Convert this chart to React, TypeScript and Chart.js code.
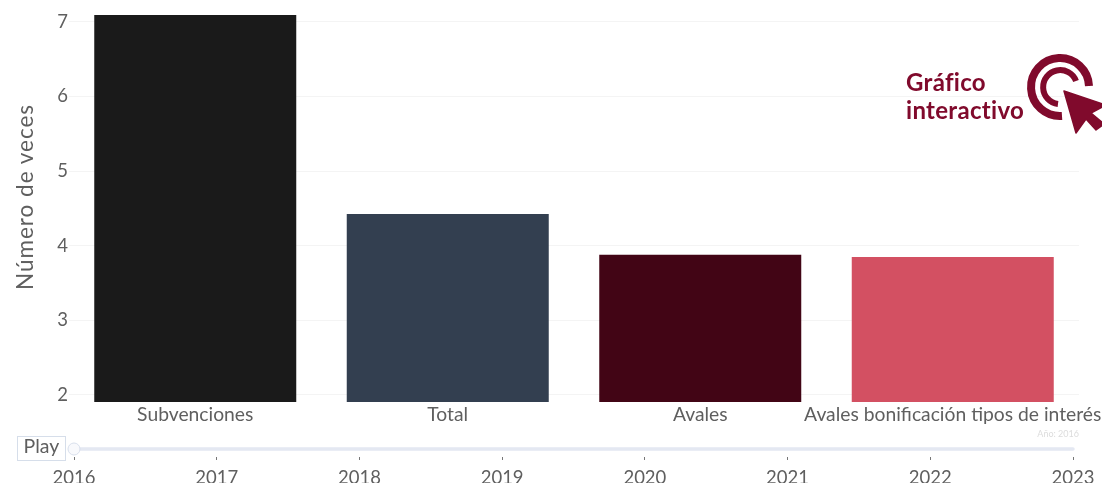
import React, { useEffect, useRef } from "react";
import { Chart, registerables } from "chart.js";

Chart.register(...registerables);

const categories = ["Subvenciones", "Total", "Avales", "Avales bonificación tipos de interés"];
const values = [7.09, 4.426, 3.877, 3.85];
const barColors = ["#1a1a1a", "#333f50", "#420515", "#d35062"];
const years = [2016, 2017, 2018, 2019, 2020, 2021, 2022, 2023];
const selectedYear = 2016;
const yMin = 1.906;
const yMax = 7.09;
const FONT = "Lato, 'Open Sans', sans-serif";
const TEXT = "#5f5f5f";
const MAROON = "#800a2c";

export default function App() {
  const mainRef = useRef<HTMLCanvasElement>(null);
  const sliderRef = useRef<HTMLCanvasElement>(null);

  useEffect(() => {
    const main = new Chart(mainRef.current!, {
      type: "bar",
      data: {
        labels: categories,
        datasets: [
          {
            data: values,
            backgroundColor: barColors,
            borderWidth: 0,
            barPercentage: 0.8,
            categoryPercentage: 1,
          },
        ],
      },
      options: {
        animation: false,
        responsive: false,
        devicePixelRatio: 1,
        layout: { padding: { top: 15, right: 23, left: 0, bottom: 0 } },
        plugins: { legend: { display: false }, tooltip: { enabled: false } },
        scales: {
          x: {
            grid: { display: false, drawTicks: false },
            border: { display: false },
            ticks: {
              autoSkip: false,
              maxRotation: 0,
              minRotation: 0,
              padding: 1,
              color: TEXT,
              font: { family: FONT, size: 19.3 },
            },
            afterFit: (s: any) => {
              s.height = 38;
              s.paddingLeft = 0;
              s.paddingRight = 0;
            },
          },
          y: {
            min: yMin,
            max: yMax,
            grid: { color: "#f4f4f4", drawTicks: false },
            border: { display: false },
            ticks: {
              stepSize: 1,
              includeBounds: false,
              padding: 1,
              color: TEXT,
              font: { family: FONT, size: 18.5 },
            },
            afterFit: (s: any) => {
              s.width = 69;
            },
          },
        },
      },
    });

    const slider = new Chart(sliderRef.current!, {
      type: "line",
      data: {
        datasets: [
          {
            data: [
              { x: years[0], y: 0 },
              { x: years[years.length - 1], y: 0 },
            ],
            borderColor: "#e4e8f2",
            borderWidth: 3.5,
            borderCapStyle: "round",
            clip: false,
            pointRadius: [6, 0],
            pointBackgroundColor: "#f8f9fc",
            pointBorderColor: "#d8dfec",
            pointBorderWidth: 1,
          },
        ],
      },
      options: {
        animation: false,
        responsive: false,
        devicePixelRatio: 1,
        layout: { padding: { left: 74, right: 29, top: 41, bottom: 4 } },
        plugins: { legend: { display: false }, tooltip: { enabled: false } },
        scales: {
          x: {
            type: "linear",
            min: years[0],
            max: years[years.length - 1],
            grid: { drawOnChartArea: false, drawTicks: true, tickLength: 3, color: "#777777", tickWidth: 1 },
            border: { display: false },
            ticks: {
              stepSize: 1,
              padding: 7,
              maxRotation: 0,
              color: TEXT,
              font: { family: FONT, size: 18.5 },
              callback: (v: any) => String(v),
            },
            afterFit: (s: any) => {
              s.height = 28;
              s.paddingLeft = 0;
              s.paddingRight = 0;
              s.paddingTop = 0;
              s.paddingBottom = 0;
            },
          },
          y: { display: false, min: -1, max: 1 },
        },
      },
    });

    return () => {
      main.destroy();
      slider.destroy();
    };
  }, []);

  return (
    <div style={{ position: "fixed", left: 0, top: 0, width: 1102, height: 483, overflow: "hidden", background: "#fff" }}>
      <canvas ref={mainRef} width={1102} height={440} style={{ position: "absolute", left: 0, top: 0 }} />
      <canvas ref={sliderRef} width={1102} height={89} style={{ position: "absolute", left: 0, top: 400 }} />
      <div
        style={{
          position: "absolute", left: 24, top: 197, width: 0, height: 0, display: "flex",
          alignItems: "center", justifyContent: "center", transform: "rotate(-90deg)",
          whiteSpace: "nowrap", color: TEXT, fontFamily: FONT, fontSize: 22.5, letterSpacing: 1,
        }}
      >
        Número de veces
      </div>
      <div
        style={{
          position: "absolute", left: 17, top: 436, width: 49, height: 25, boxSizing: "border-box",
          border: "1px solid #d6deea", background: "#fff", color: TEXT, fontFamily: FONT, fontSize: 19.5,
          textAlign: "center", lineHeight: "17px",
        }}
      >
        Play
      </div>
      <div style={{ position: "absolute", right: 23, top: 428, color: "#dcdcdc", fontFamily: FONT, fontSize: 9 }}>
        Año: {selectedYear}
      </div>
      <div style={{ position: "absolute", left: 906, top: 68, color: MAROON, fontFamily: FONT, fontWeight: 700, fontSize: 24, letterSpacing: 0.3, lineHeight: "28px" }}>
        Gráfico<br />interactivo
      </div>
      <svg width={82} height={90} viewBox="1020 50 82 90" style={{ position: "absolute", left: 1020, top: 50 }}>
        <path d="M 1089,86 A 29 29 0 1 0 1062,116" fill="none" stroke={MAROON} strokeWidth={8} />
        <path d="M 1076,81 A 17 17 0 1 0 1058,104" fill="none" stroke={MAROON} strokeWidth={6} />
        <polygon points="1064,91 1106,105 1091,113 1104,124 1096,130 1086,119 1076,133" fill={MAROON} stroke={MAROON} strokeWidth={1.5} strokeLinejoin="round" />
      </svg>
    </div>
  );
}
